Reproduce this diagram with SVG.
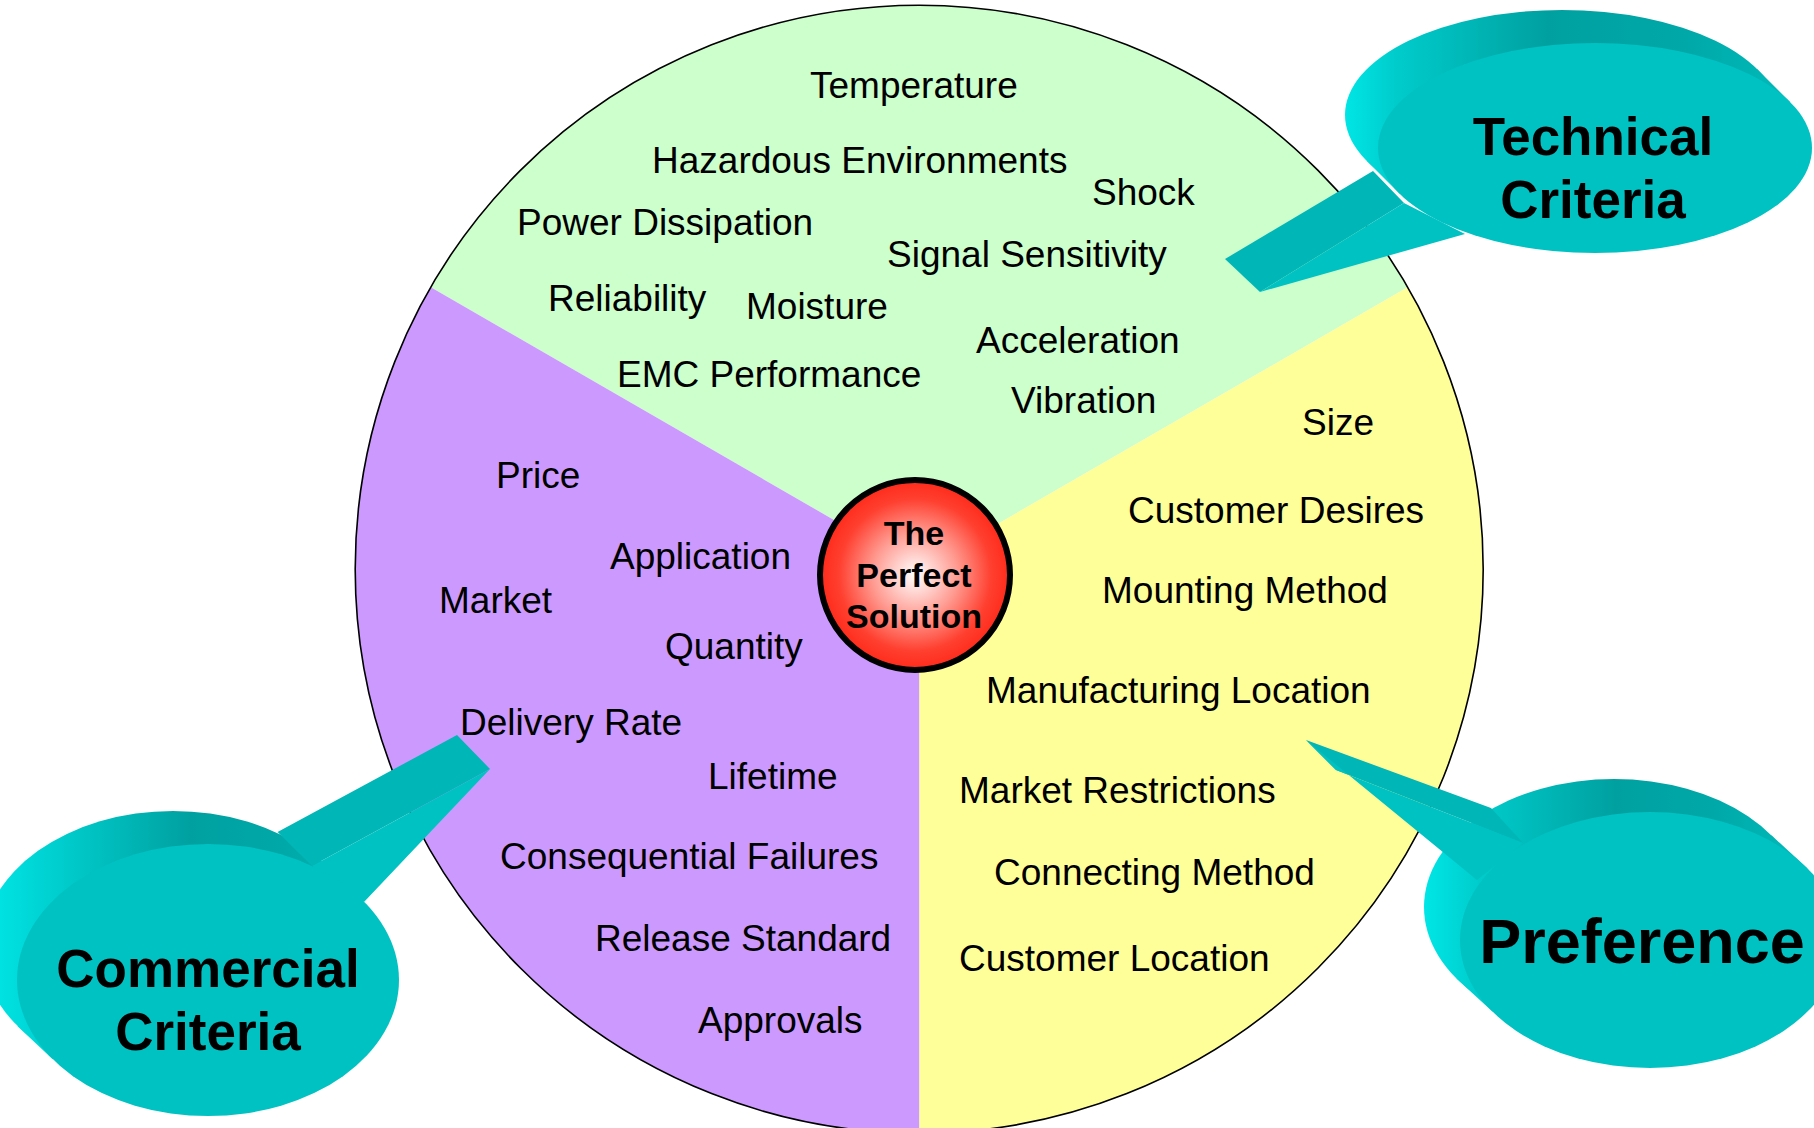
<svg xmlns="http://www.w3.org/2000/svg" width="1814" height="1128" viewBox="0 0 1814 1128">
<style>
.lbl{font-family:"Liberation Sans",Arial,sans-serif;font-size:37px;fill:#000}
.big{font-family:"Liberation Sans",Arial,sans-serif;font-weight:bold;font-size:53px;fill:#000;text-anchor:middle}
.ctr{font-family:"Liberation Sans",Arial,sans-serif;font-weight:bold;font-size:34px;fill:#000;text-anchor:middle}
.face{fill:#00c2c2}
.side{fill:#00b6b6}
</style>
<defs>
<radialGradient id="gRed" cx="50%" cy="50%" r="50%">
<stop offset="0" stop-color="#ffffff"/>
<stop offset="0.45" stop-color="#ff9a90"/>
<stop offset="0.8" stop-color="#ff4030"/>
<stop offset="1" stop-color="#ff2a1a"/>
</radialGradient>
<linearGradient id="gTech" gradientUnits="userSpaceOnUse" x1="1340" y1="0" x2="1800" y2="0">
<stop offset="0" stop-color="#00e8e8"/>
<stop offset="0.12" stop-color="#00cccc"/>
<stop offset="0.45" stop-color="#00a0a0"/>
<stop offset="0.75" stop-color="#00a8a8"/>
<stop offset="1" stop-color="#00bcbc"/>
</linearGradient>
<linearGradient id="gComm" gradientUnits="userSpaceOnUse" x1="-20" y1="0" x2="400" y2="0">
<stop offset="0" stop-color="#00e8e8"/>
<stop offset="0.2" stop-color="#00cccc"/>
<stop offset="0.5" stop-color="#00a0a0"/>
<stop offset="0.72" stop-color="#00a8a8"/>
<stop offset="1" stop-color="#00bcbc"/>
</linearGradient>
<linearGradient id="gPref" gradientUnits="userSpaceOnUse" x1="1420" y1="0" x2="1810" y2="0">
<stop offset="0" stop-color="#00e8e8"/>
<stop offset="0.15" stop-color="#00cccc"/>
<stop offset="0.5" stop-color="#00a0a0"/>
<stop offset="0.75" stop-color="#00a8a8"/>
<stop offset="1" stop-color="#00bcbc"/>
</linearGradient>
</defs>

<g id="pie">
<path d="M919.2,569.2 L430.8,287.2 A564,564 0 0 1 1407.6,287.2 Z" fill="#ccffcc"/>
<path d="M919.2,569.2 L1407.6,287.2 A564,564 0 0 1 919.2,1133.2 Z" fill="#ffff99"/>
<path d="M919.2,569.2 L919.2,1133.2 A564,564 0 0 1 430.8,287.2 Z" fill="#cc99ff"/>
<circle cx="919.2" cy="569.2" r="564" fill="none" stroke="#000" stroke-width="1.6"/>
</g>

<g id="labels-technical">
<text class="lbl" x="810" y="98">Temperature</text>
<text class="lbl" x="652" y="173">Hazardous Environments</text>
<text class="lbl" x="1092" y="205">Shock</text>
<text class="lbl" x="517" y="235">Power Dissipation</text>
<text class="lbl" x="887" y="267">Signal Sensitivity</text>
<text class="lbl" x="548" y="311">Reliability</text>
<text class="lbl" x="746" y="319">Moisture</text>
<text class="lbl" x="976" y="353">Acceleration</text>
<text class="lbl" x="617" y="387">EMC Performance</text>
<text class="lbl" x="1011" y="413">Vibration</text>
</g>

<g id="labels-commercial">
<text class="lbl" x="496" y="488">Price</text>
<text class="lbl" x="610" y="569">Application</text>
<text class="lbl" x="439" y="613">Market</text>
<text class="lbl" x="665" y="659">Quantity</text>
<text class="lbl" x="460" y="735">Delivery Rate</text>
<text class="lbl" x="708" y="789">Lifetime</text>
<text class="lbl" x="500" y="869">Consequential Failures</text>
<text class="lbl" x="595" y="951">Release Standard</text>
<text class="lbl" x="698" y="1033">Approvals</text>
</g>

<g id="labels-preference">
<text class="lbl" x="1302" y="435">Size</text>
<text class="lbl" x="1128" y="523">Customer Desires</text>
<text class="lbl" x="1102" y="603">Mounting Method</text>
<text class="lbl" x="986" y="703">Manufacturing Location</text>
<text class="lbl" x="959" y="803">Market Restrictions</text>
<text class="lbl" x="994" y="885">Connecting Method</text>
<text class="lbl" x="959" y="971">Customer Location</text>
</g>

<g id="center-node">
<circle cx="915" cy="575" r="95" fill="url(#gRed)" stroke="#000" stroke-width="6"/>
<text class="ctr" x="914" y="545">The</text>
<text class="ctr" x="914" y="587">Perfect</text>
<text class="ctr" x="914" y="628">Solution</text>
</g>

<g id="callout-technical">
<ellipse cx="1562" cy="115" rx="217" ry="105" fill="url(#gTech)"/>
<polygon points="1366.7,160.7 1757.3,69.3 1790.3,102.3 1399.7,193.7" fill="url(#gTech)"/>
<polygon class="side" points="1225,259 1373,171 1404,203 1260,292"/>
<polygon class="face" points="1260,292 1404,203 1465,234"/>
<ellipse class="face" cx="1595" cy="148" rx="217" ry="105"/>
<text class="big" x="1593" y="155">Technical</text>
<text class="big" x="1593" y="218">Criteria</text>
</g>

<g id="callout-commercial">
<ellipse cx="173" cy="947" rx="191" ry="136" fill="url(#gComm)"/>
<polygon points="17.4,1025.9 328.6,868.1 363.6,901.1 52.4,1058.9" fill="url(#gComm)"/>
<polygon class="side" points="457,735 277.6,832 312,866 490,769"/>
<polygon class="face" points="490,769 312,866 364,902"/>
<ellipse class="face" cx="208" cy="980" rx="191" ry="136"/>
<text class="big" x="208" y="987">Commercial</text>
<text class="big" x="208" y="1050">Criteria</text>
</g>

<g id="callout-preference">
<ellipse cx="1614" cy="907" rx="190" ry="128" fill="url(#gPref)"/>
<polygon points="1456.4,978.5 1771.6,835.5 1807.6,868.5 1492.4,1011.5" fill="url(#gPref)"/>
<polygon class="side" points="1306,740 1491,808 1523,843 1336,770"/>
<polygon class="face" points="1306,740 1336,770 1523,843 1477,880"/>
<ellipse class="face" cx="1650" cy="940" rx="190" ry="128"/>
<text class="big" x="1642" y="963" style="font-size:63px">Preference</text>
</g>
</svg>
